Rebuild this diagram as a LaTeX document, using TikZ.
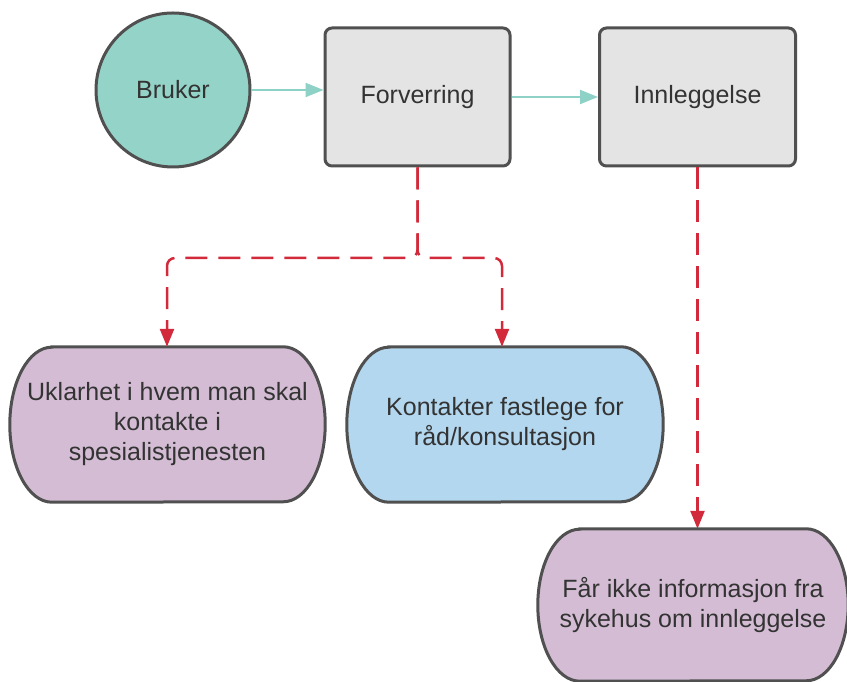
\documentclass[tikz,border=0pt]{standalone}
\usepackage{fontspec}
\setmainfont{Liberation Sans}
\usetikzlibrary{arrows.meta,backgrounds}
\definecolor{tealfill}{HTML}{94D3C8}
\definecolor{tealline}{HTML}{8ED1C6}
\definecolor{boxfill}{HTML}{E4E4E4}
\definecolor{edge}{HTML}{505050}
\definecolor{lilac}{HTML}{D4BDD4}
\definecolor{skyblue}{HTML}{B3D7EF}
\definecolor{alert}{HTML}{D22A3A}
\definecolor{ink}{HTML}{333333}
\tikzset{
  base/.style={text=ink, font=\fontsize{25pt}{30pt}\selectfont, align=center, inner sep=0pt},
  person/.style={base, circle, draw=edge, line width=3pt, fill=tealfill, minimum size=154pt},
  stepbox/.style={base, draw=edge, line width=3pt, fill=boxfill, rounded corners=7pt},
  stadium/.style={base, minimum height=#1},
  flow/.style={draw=tealline, line width=2pt, -{Triangle[length=18pt,width=14pt]}},
  issue/.style={draw=alert, line width=2.5pt, dash pattern=on 22pt off 11pt,
    rounded corners=8pt, -{Triangle[length=18pt,width=14pt]}},
}
% outline of a stadium-like node with elliptical ends
\newcommand{\stadiumoutline}[3]{%
  \begin{pgfonlayer}{background}
    \draw[draw=edge, line width=3pt, fill=#2]
      ([xshift=#3]#1.north west) -- ([xshift=-#3]#1.north east)
      arc[start angle=90, end angle=-90, x radius=#3, y radius={0.5*\nodeh}]
      -- ([xshift=#3]#1.south west)
      arc[start angle=270, end angle=90, x radius=#3, y radius={0.5*\nodeh}]
      -- cycle;
  \end{pgfonlayer}}
\begin{document}
\begin{tikzpicture}[x=1pt,y=1pt]
\useasboundingbox (0,0) rectangle (847,682);

% top row
\node[person] (B) at (173,592) {Bruker};
\node[stepbox, minimum width=185pt, minimum height=138pt] (F) at (417.5,585) {Forverring};
\node[stepbox, minimum width=196pt, minimum height=138pt] (I) at (697.5,585) {Innleggelse};

% outcome nodes
\node[base, minimum width=315pt, minimum height=155pt] (L) at (167.5,257.5)
  {Uklarhet i hvem man skal\\kontakte i\\spesialistjenesten};
\node[base, minimum width=316pt, minimum height=155pt] (K) at (505,257.5)
  {Kontakter fastlege for\\råd/konsultasjon};
\node[base, minimum width=310pt, minimum height=152pt] (R) at (693,77)
  {Får ikke informasjon fra\\sykehus om innleggelse};

\def\nodeh{155pt}
\stadiumoutline{L}{lilac}{42pt}
\stadiumoutline{K}{skyblue}{42pt}
\def\nodeh{152pt}
\stadiumoutline{R}{lilac}{42pt}

% main flow
\draw[flow] (B.east) -- (B.east -| F.west);
\draw[flow] (F.east) -- (I.west);

% dashed consequences
\coordinate (J) at (417.5,424);
\coordinate (Lt) at ([xshift=-0.5pt]L.north);
\coordinate (Kt) at ([xshift=-3pt]K.north);
\draw[issue] (F.south) -- (J) -| (Lt);
\draw[issue] (F.south) -- (J) -| (Kt);
\draw[issue] (I.south) -- (I.south |- R.north);
\end{tikzpicture}
\end{document}
